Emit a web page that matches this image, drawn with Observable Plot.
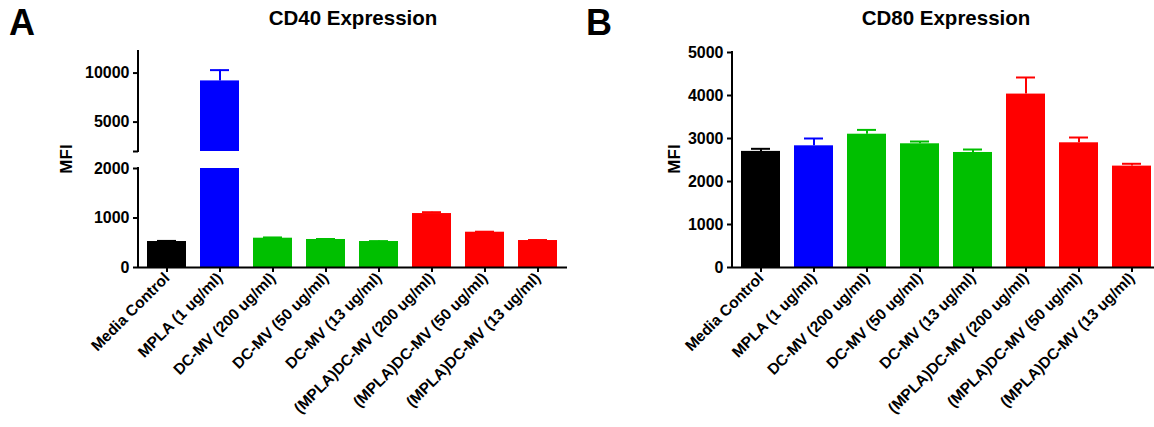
<!DOCTYPE html>
<html>
<head>
<meta charset="utf-8">
<script src="https://cdn.jsdelivr.net/npm/d3@7"></script>
<script src="https://cdn.jsdelivr.net/npm/@observablehq/plot@0.6"></script>
<style>
  html, body { margin: 0; padding: 0; background: #fff; }
  #wrap { position: relative; width: 1154px; height: 427px; overflow: hidden; background: #fff; }
  #wrap > svg, #wrap > figure { position: absolute; margin: 0; }
  .overlay text { font-family: "Liberation Sans", Arial, sans-serif; font-weight: bold; fill: #000; }
</style>
</head>
<body>
<div id="wrap"></div>
<script>
// ---- data ----
const categories = [
  "Media Control", "MPLA (1 ug/ml)", "DC-MV (200 ug/ml)", "DC-MV (50 ug/ml)",
  "DC-MV (13 ug/ml)", "(MPLA)DC-MV (200 ug/ml)", "(MPLA)DC-MV (50 ug/ml)", "(MPLA)DC-MV (13 ug/ml)"
];
const barColors = ["#000000", "#0000ff", "#00bf00", "#00bf00", "#00bf00", "#ff0000", "#ff0000", "#ff0000"];
const cd40Values = [525, 9200, 592, 566, 525, 1090, 713, 545];
const cd40Errors = [12, 1100, 15, 10, 8, 27, 10, 10];
const cd80Values = [2700, 2830, 3100, 2877, 2675, 4033, 2900, 2358];
const cd80Errors = [60, 170, 100, 53, 69, 386, 123, 54];
const cd40UpperTicks = [2000, 5000, 10000];
const cd40LowerTicks = [0, 1000, 2000];
const cd80Ticks = [0, 1000, 2000, 3000, 4000, 5000];

const cd40 = categories.map((c, i) => ({name: c, value: cd40Values[i], err: cd40Errors[i], color: barColors[i]}));
const cd80 = categories.map((c, i) => ({name: c, value: cd80Values[i], err: cd80Errors[i], color: barColors[i]}));

const FONT = "'Liberation Sans', Arial, sans-serif";
const style = {fontFamily: FONT, fontSize: "16px", fontWeight: "bold", color: "#000", background: "transparent", overflow: "visible"};
const xScale = {domain: categories, paddingInner: 0.26, paddingOuter: 0.12};

// vertical axis line drawn from the y scale's domain
function yAxisLine(index, scales, values, dims) {
  const [d0, d1] = scales.scales.y.domain;
  const ln = document.createElementNS("http://www.w3.org/2000/svg", "line");
  const x = dims.marginLeft;
  ln.setAttribute("x1", x); ln.setAttribute("x2", x);
  ln.setAttribute("y1", scales.y(d0)); ln.setAttribute("y2", scales.y(d1));
  ln.setAttribute("stroke", "#000"); ln.setAttribute("stroke-width", 2);
  ln.setAttribute("stroke-linecap", "square");
  return ln;
}

function barMarks(data, clip) {
  return [
    Plot.ruleX(data, {x: "name", y1: "value", y2: d => d.value + d.err, stroke: "color", strokeWidth: 2, clip}),
    Plot.tickY(data, {x: "name", y: d => d.value + d.err, stroke: "color", strokeWidth: 2, insetLeft: 10, insetRight: 10, clip}),
    Plot.barY(data, {x: "name", y: "value", fill: "color", clip})
  ];
}
const xAxis = () => Plot.axisX({tickRotate: -45, tickSize: 5, tickPadding: 3, strokeWidth: 2, fontSize: 15.5, label: null});

const wrap = document.getElementById("wrap");

// Panel A upper segment
const aUpper = Plot.plot({
  width: 580, height: 154,
  marginLeft: 138, marginRight: 13, marginTop: 51, marginBottom: 3,
  style,
  x: {...xScale, axis: null},
  y: {domain: [2000, 12200], axis: null},
  color: {type: "identity"},
  marks: [
    ...barMarks(cd40, true),
    Plot.axisY({ticks: cd40UpperTicks, tickFormat: d => d === 2000 ? "" : String(d), tickSize: 5, tickPadding: 4, strokeWidth: 2, label: null}),
    yAxisLine
  ]
});
aUpper.style.left = "0px"; aUpper.style.top = "0px";
wrap.appendChild(aUpper);

// Panel A lower segment
const aLower = Plot.plot({
  width: 580, height: 277,
  marginLeft: 138, marginRight: 13, marginTop: 18, marginBottom: 160,
  style,
  x: {...xScale},
  y: {domain: [0, 2000]},
  color: {type: "identity"},
  marks: [
    ...barMarks(cd40, true),
    Plot.axisY({ticks: cd40LowerTicks, tickFormat: d => String(d), tickSize: 5, tickPadding: 4, strokeWidth: 2, label: null}),
    xAxis(),
    Plot.ruleY([0], {strokeWidth: 2}),
    yAxisLine
  ]
});
aLower.style.left = "0px"; aLower.style.top = "150px";
wrap.appendChild(aLower);

// Panel B
const b = Plot.plot({
  width: 580, height: 427,
  marginLeft: 138, marginRight: 13, marginTop: 52, marginBottom: 160,
  style,
  x: {...xScale},
  y: {domain: [0, 5000]},
  color: {type: "identity"},
  marks: [
    ...barMarks(cd80, false),
    Plot.axisY({ticks: cd80Ticks, tickFormat: d => String(d), tickSize: 5, tickPadding: 4, strokeWidth: 2, label: null}),
    xAxis(),
    Plot.ruleY([0], {strokeWidth: 2}),
    yAxisLine
  ]
});
b.style.left = "594px"; b.style.top = "0px";
wrap.appendChild(b);

// Titles, panel letters and axis labels
const ns = "http://www.w3.org/2000/svg";
const ov = document.createElementNS(ns, "svg");
ov.setAttribute("class", "overlay");
ov.setAttribute("width", 1154); ov.setAttribute("height", 427);
ov.style.left = "0px"; ov.style.top = "0px"; ov.style.pointerEvents = "none";
function addText(str, x, y, size, anchor, rotate) {
  const t = document.createElementNS(ns, "text");
  t.textContent = str;
  t.setAttribute("font-size", size);
  t.setAttribute("text-anchor", anchor);
  t.setAttribute("transform", `translate(${x},${y})` + (rotate ? ` rotate(${rotate})` : ""));
  ov.appendChild(t);
}
addText("A", 9, 35, 36, "start");
addText("B", 586, 35, 36, "start");
addText("CD40 Expression", 353, 25, 20.5, "middle");
addText("CD80 Expression", 946, 25, 20.5, "middle");
addText("MFI", 72, 159, 17, "middle", -90);
addText("MFI", 680, 159, 17, "middle", -90);
wrap.appendChild(ov);
</script>
</body>
</html>
